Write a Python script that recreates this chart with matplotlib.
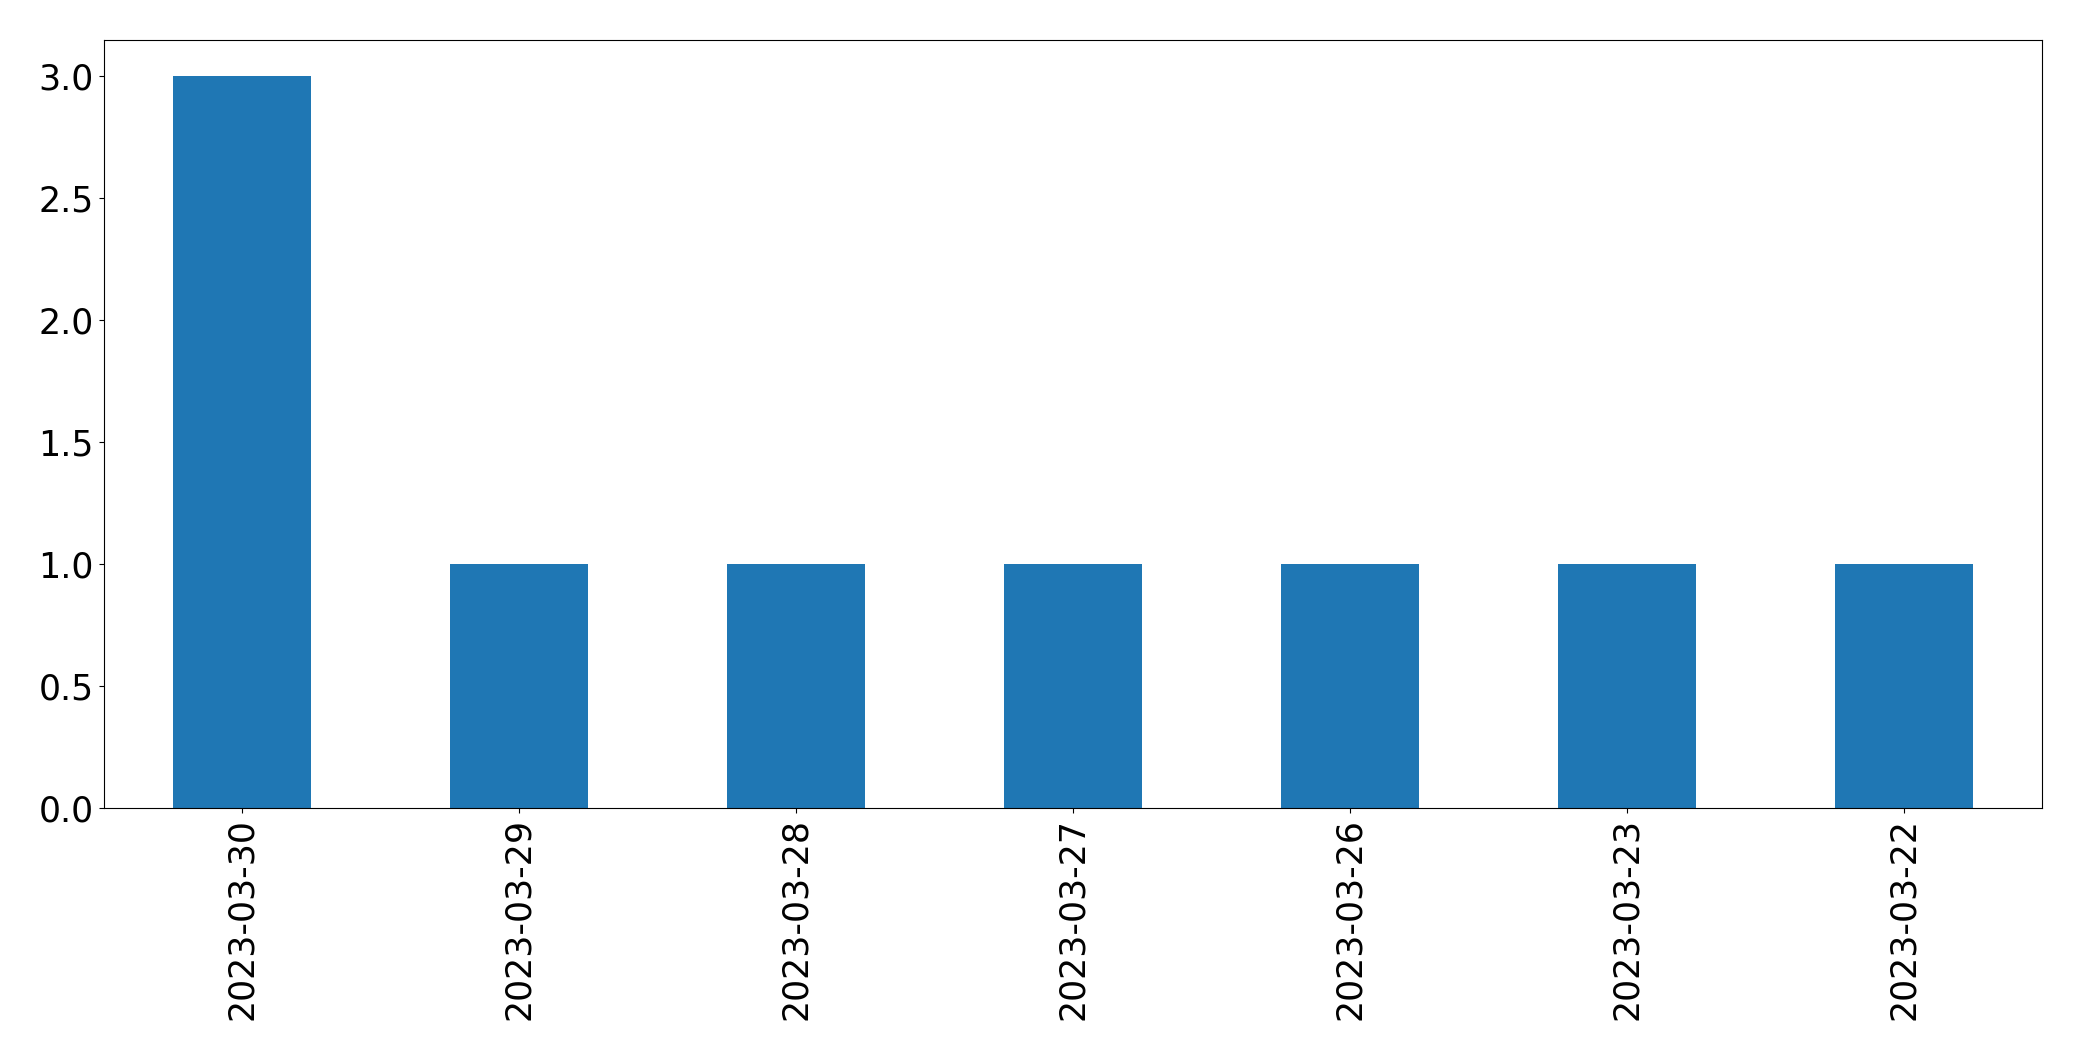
import matplotlib
matplotlib.use("Agg")
import matplotlib.pyplot as plt
import numpy as np

dates = ["2023-03-30", "2023-03-29", "2023-03-28", "2023-03-27", "2023-03-26", "2023-03-23", "2023-03-22"]
counts = [3, 1, 1, 1, 1, 1, 1]

fig = plt.figure(figsize=(20.82, 10.61), dpi=100)
ax = fig.add_axes([0.0498, 0.238, 0.9312, 0.7245])
x = np.arange(len(dates))
ax.bar(x, counts, width=0.5, color="#1f77b4")
ax.set_xlim(-0.5, len(dates) - 0.5)
ax.set_ylim(0, 3.15)
ax.set_xticks(x)
ax.set_xticklabels(dates, rotation=90)
ax.tick_params(labelsize=25)
fig.savefig("out.png", dpi=100)
